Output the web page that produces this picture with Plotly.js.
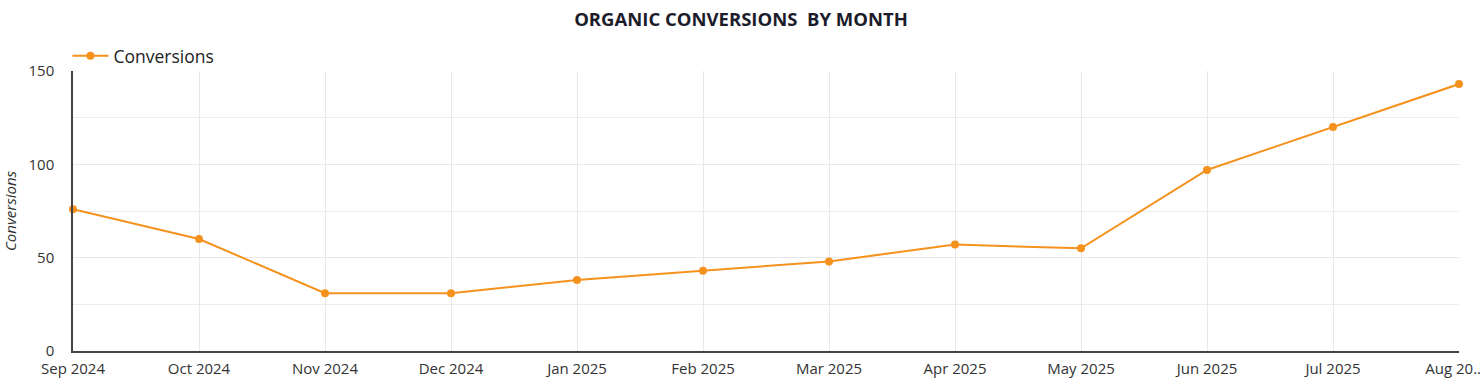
<!DOCTYPE html>
<html><head><meta charset="utf-8">
<script src="https://cdn.plot.ly/plotly-3.0.1.min.js"></script>
<style>html,body{margin:0;padding:0;background:#fff}#chart{width:1482px;height:392px}</style>
</head><body><div id="chart"></div>
<script>
const months = ["Sep 2024","Oct 2024","Nov 2024","Dec 2024","Jan 2025","Feb 2025","Mar 2025","Apr 2025","May 2025","Jun 2025","Jul 2025","Aug 2025"];
const monthLabels = ["Sep 2024","Oct 2024","Nov 2024","Dec 2024","Jan 2025","Feb 2025","Mar 2025","Apr 2025","May 2025","Jun 2025","Jul 2025","Aug 20..\u00a0\u00a0\u00a0"];
const conversions = [76, 60, 31, 31, 38, 43, 48, 57, 55, 97, 120, 143];
const yTicks = [0, 50, 100, 150];

const orange = "#f5921e";
Plotly.newPlot("chart", [{
  x: months, y: conversions, type: "scatter", mode: "lines+markers", name: "Conversions",
  line: {color: orange, width: 2}, marker: {color: orange, size: 8}, cliponaxis: false
}], {
  width: 1482, height: 392,
  margin: {l: 73, r: 23, t: 71, b: 41},
  paper_bgcolor: "#fff", plot_bgcolor: "#fff",
  font: {family: "'Open Sans', sans-serif", color: "#333", size: 15},
  title: {text: "<b>ORGANIC CONVERSIONS  BY MONTH</b>", font: {family: "'Open Sans', sans-serif", size: 18.5, color: "#1c1c2b"}, x: 0.5, xanchor: "center", y: 0.95, yanchor: "middle"},
  showlegend: true,
  legend: {orientation: "h", x: -0.004, xanchor: "left", y: 0.99, yanchor: "bottom", font: {size: 17.5, color: "#222"}, bgcolor: "rgba(0,0,0,0)", itemwidth: 36},
  xaxis: {type: "category", range: [0, 11], tickvals: months, ticktext: monthLabels, showgrid: true, gridcolor: "#e8e8e8",
    showline: true, linecolor: "#444", linewidth: 1.5, ticks: "", ticklabelstandoff: 3, zeroline: false, tickfont: {size: 15, color: "#333"}},
  yaxis: {range: [0, 150], tickvals: yTicks, showgrid: true, gridcolor: "#e8e8e8", showline: true, linecolor: "#444", linewidth: 1.5,
    ticks: "", ticklabelstandoff: 14, zeroline: false, tickfont: {size: 15, color: "#333"},
    minor: {dtick: 25, showgrid: true, gridcolor: "#ececec"},
    title: {text: "<i>Conversions</i>", font: {size: 15, color: "#333"}, standoff: 8}}
}, {displayModeBar: false});
</script></body></html>
